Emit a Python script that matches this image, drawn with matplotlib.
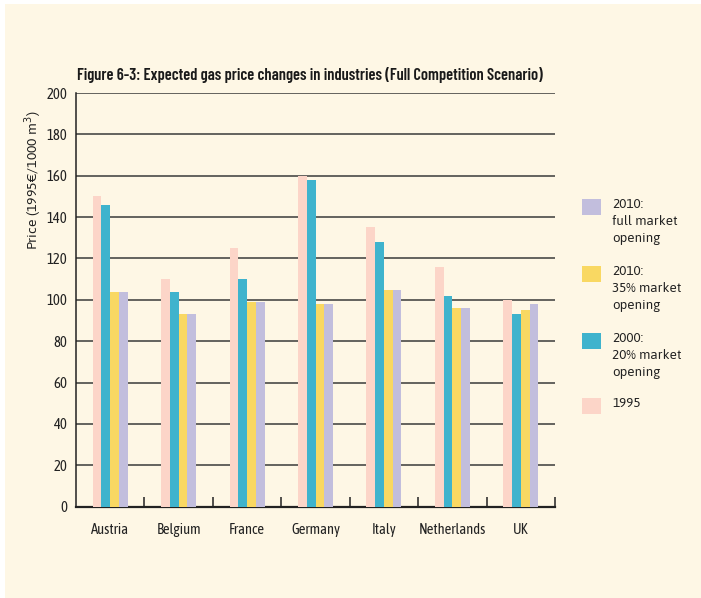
import numpy as np
import matplotlib
matplotlib.use('Agg')
import matplotlib.pyplot as plt
from matplotlib.patches import Rectangle

# gas prices for industry, 1995 EUR per 1000 m3
countries = ['Austria', 'Belgium', 'France', 'Germany', 'Italy', 'Netherlands', 'UK']
p1995 = [150, 110, 125, 160, 135, 116, 100]
p2000 = [146, 104, 110, 158, 128, 102, 93]
p2010_35 = [104, 93, 99, 98, 105, 96, 95]
p2010_full = [104, 93, 99, 98, 105, 96, 98]

serie = [p1995, p2000, p2010_35, p2010_full]
kolory = ['#fcd5c8', '#3fb3cd', '#f9d862', '#c2bedd']
opisy = ['2010:\nfull market\nopening', '2010:\n35% market\nopening',
         '2000:\n20% market\nopening', '1995']
kolory_leg = ['#c2bedd', '#f9d862', '#3fb3cd', '#fcd5c8']

tlo = '#fef7e5'
plt.rcParams['font.family'] = ['Asap', 'DejaVu Sans']
waski = ['Asap Condensed', 'DejaVu Sans']
tytul = ['Barlow Condensed', 'DejaVu Sans']

fig = plt.figure(figsize=(7.01, 5.98), dpi=100, facecolor='white')
fig.patches.append(Rectangle((5 / 701, 0), 1, 594 / 598, transform=fig.transFigure,
                             facecolor=tlo, edgecolor='none', zorder=-10))
ax = fig.add_axes([76 / 701, 91.3 / 598, 479 / 701, 413.7 / 598])
ax.set_facecolor(tlo)

x = np.arange(len(countries))
w = 0.128
for i, (s, k) in enumerate(zip(serie, kolory)):
    ax.bar(x + (i - 1.5) * w, s, width=w, color=k, edgecolor='none', zorder=3)

ax.set_xlim(-0.5, len(countries) - 0.5)
ax.set_ylim(0, 200)
ax.set_yticks(range(0, 201, 20))
ax.set_yticklabels([str(v) for v in range(0, 201, 20)], family=waski, fontsize=10.5, color='#222222')
ax.yaxis.grid(True, color='#3a3a3a', linewidth=1.1)
ax.set_axisbelow(True)
ax.tick_params(axis='y', length=0, pad=6)
ax.set_xticks(x)
ax.set_xticklabels(countries, family=waski, fontsize=10.5, color='#222222')
ax.tick_params(axis='x', length=0, pad=12)
ax.set_xticks(np.arange(0.5, len(countries)), minor=True)
ax.tick_params(axis='x', which='minor', direction='in', length=7, width=1.1, color='#222222')

for s in ['top', 'right']:
    ax.spines[s].set_visible(False)
ax.spines['left'].set_linewidth(1.1)
ax.spines['bottom'].set_linewidth(1.6)
ax.spines['left'].set_color('#222222')
ax.spines['bottom'].set_color('#222222')

ax.set_ylabel('Price (1995€/1000 m$^3$)', fontsize=10, color='#222222')
ax.yaxis.set_label_coords(-0.066, 0.79)

fig.text(77 / 701, 1 - 80 / 598, 'Figure 6-3: Expected gas price changes in industries (Full Competition Scenario)',
         family=tytul, fontweight='semibold', fontsize=11.8, color='#1a1a1a', va='baseline')

# legend drawn by hand, boxes with labels on the right
gora = [199, 266, 333, 398]
for g, k, t in zip(gora, kolory_leg, opisy):
    fig.patches.append(Rectangle((582 / 701, 1 - (g + 16) / 598), 19 / 701, 16 / 598,
                                 transform=fig.transFigure, facecolor=k, edgecolor='none'))
    fig.text(612 / 701, 1 - (g - 1) / 598, t, fontsize=9.6, color='#222222',
             va='top', ha='left', linespacing=1.42)

plt.savefig('out.png', dpi=100, facecolor=fig.get_facecolor())
